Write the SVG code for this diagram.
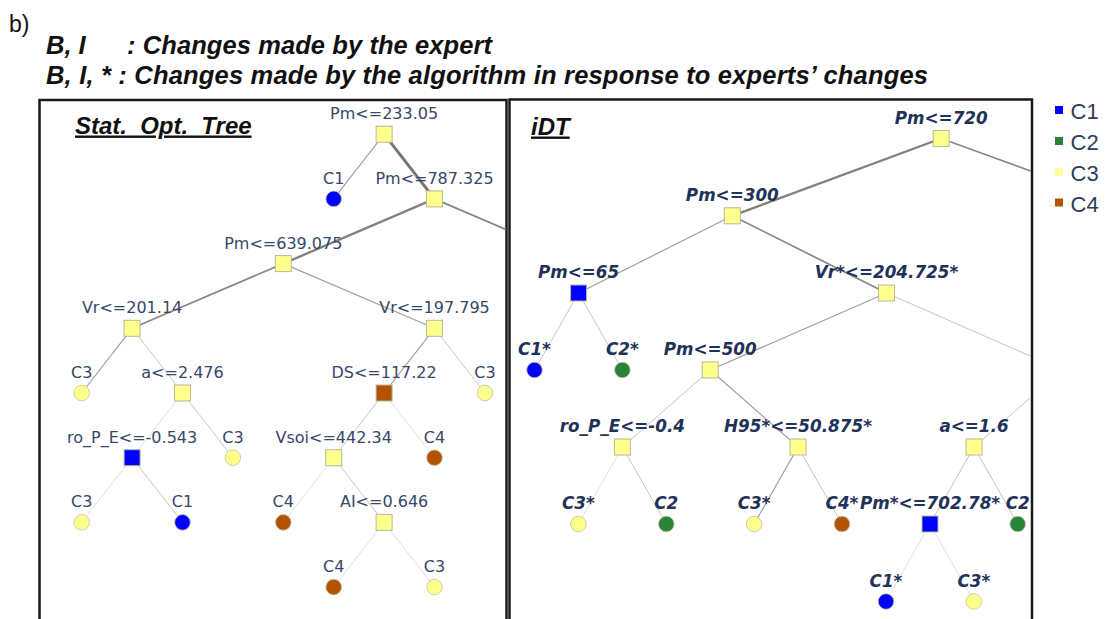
<svg xmlns="http://www.w3.org/2000/svg" width="1106" height="619" viewBox="0 0 1106 619">
<style>
.hdr{font-family:"Liberation Sans",Arial,sans-serif;font-weight:bold;font-style:italic;font-size:25.5px;fill:#111}
.ttl{font-family:"Liberation Sans",Arial,sans-serif;font-weight:bold;font-style:italic;font-size:24px;fill:#111;text-decoration:underline}
.ll{font-family:"DejaVu Sans",Verdana,sans-serif;font-size:16px;fill:#36476a;text-anchor:middle}
.rl{font-family:"DejaVu Sans",Verdana,sans-serif;font-size:16.8px;font-weight:bold;font-style:italic;fill:#1f3359;text-anchor:middle}
.lg{font-family:"Liberation Sans",Arial,sans-serif;font-size:22px;fill:#2f3d5a}
.sq{stroke:#b9b79e;stroke-width:1}
.ci{stroke:#c4c2aa;stroke-width:0.8}
.y{fill:#ffff8c}
.b{fill:#0000ff}
.g{fill:#2a8438}
.o{fill:#b05400}
.panel{fill:none;stroke:#1a1a1a;stroke-width:2.5}
.e{fill:none;stroke-linecap:round}
.w1{stroke:#7b756f;stroke-width:3}
.w2{stroke:#857f79;stroke-width:2.3}
.w3{stroke:#8c8680;stroke-width:1.7}
.w4{stroke:#a39e99;stroke-width:1.2}
.w5{stroke:#c9c5c1;stroke-width:1}
.w6{stroke:#e2e0de;stroke-width:1}
</style>
<defs>
<clipPath id="clipL"><rect x="40" y="100" width="466" height="519"/></clipPath>
<clipPath id="clipR"><rect x="510" y="100" width="521" height="519"/></clipPath>
</defs>
<rect x="0" y="0" width="1106" height="619" fill="#ffffff"/>

<g id="header">
<text x="9" y="31.5" font-family="Liberation Sans, Arial, sans-serif" font-size="23" fill="#111">b)</text>
<text class="hdr" x="46" y="54">B, I</text>
<text class="hdr" x="127" y="54" textLength="365" lengthAdjust="spacing">: Changes made by the expert</text>
<text class="hdr" x="46" y="84" textLength="882" lengthAdjust="spacing">B, I, * : Changes made by the algorithm in response to experts’ changes</text>
</g>

<g id="panels">
<path class="panel" d="M39.5,625 V100 H506.5 V625"/>
<path class="panel" d="M509.5,625 V99.5 H1032 V625"/>
<text class="ttl" x="75" y="133.5" word-spacing="6.5">Stat. Opt. Tree</text>
<text class="ttl" x="531" y="134.5">iDT</text>
</g>

<g id="legend">
<rect x="1055" y="106" width="8" height="8" class="b"/>
<text class="lg" x="1070.5" y="119">C1</text>
<rect x="1055" y="137" width="8" height="8" class="g"/>
<text class="lg" x="1070.5" y="150">C2</text>
<rect x="1055" y="168" width="8" height="8" fill="#ffff99"/>
<text class="lg" x="1070.5" y="181">C3</text>
<rect x="1055" y="198.5" width="8" height="8" class="o"/>
<text class="lg" x="1070.5" y="211.5">C4</text>
</g>

<g id="connectors">
<g clip-path="url(#clipL)">
<line class="e w4" x1="384.1" y1="134.2" x2="333.7" y2="198.9"/>
<line class="e w1" x1="384.1" y1="134.2" x2="434.5" y2="198.9"/>
<line class="e w2" x1="434.5" y1="198.9" x2="283.3" y2="263.6"/>
<line class="e w3" x1="434.5" y1="198.9" x2="585.7" y2="263.6"/>
<line class="e w3" x1="283.3" y1="263.6" x2="132.1" y2="328.3"/>
<line class="e w4" x1="283.3" y1="263.6" x2="434.5" y2="328.3"/>
<line class="e w4" x1="132.1" y1="328.3" x2="81.7" y2="393"/>
<line class="e w5" x1="132.1" y1="328.3" x2="182.5" y2="393"/>
<line class="e w6" x1="182.5" y1="393" x2="132.1" y2="457.7"/>
<line class="e w5" x1="182.5" y1="393" x2="232.9" y2="457.7"/>
<line class="e w6" x1="132.1" y1="457.7" x2="81.7" y2="522.4"/>
<line class="e w5" x1="132.1" y1="457.7" x2="182.5" y2="522.4"/>
<line class="e w4" x1="434.5" y1="328.3" x2="384.1" y2="393"/>
<line class="e w5" x1="434.5" y1="328.3" x2="484.9" y2="393"/>
<line class="e w5" x1="384.1" y1="393" x2="333.7" y2="457.7"/>
<line class="e w6" x1="384.1" y1="393" x2="434.5" y2="457.7"/>
<line class="e w6" x1="333.7" y1="457.7" x2="283.3" y2="522.4"/>
<line class="e w5" x1="333.7" y1="457.7" x2="384.1" y2="522.4"/>
<line class="e w6" x1="384.1" y1="522.4" x2="333.7" y2="587.1"/>
<line class="e w6" x1="384.1" y1="522.4" x2="434.5" y2="587.1"/>
</g>
<g clip-path="url(#clipR)">
<line class="e w2" x1="941.2" y1="138.5" x2="732.3" y2="215.8"/>
<line class="e w3" x1="941.2" y1="138.5" x2="1154" y2="215.8"/>
<line class="e w4" x1="732.3" y1="215.8" x2="578.6" y2="293"/>
<line class="e w3" x1="732.3" y1="215.8" x2="886.5" y2="293"/>
<line class="e w5" x1="578.6" y1="293" x2="534.5" y2="370"/>
<line class="e w5" x1="578.6" y1="293" x2="622.4" y2="370"/>
<line class="e w4" x1="886.5" y1="293" x2="710.2" y2="370"/>
<line class="e w5" x1="886.5" y1="293" x2="1062" y2="370"/>
<line class="e w5" x1="710.2" y1="370" x2="622.4" y2="447"/>
<line class="e w4" x1="710.2" y1="370" x2="798" y2="447"/>
<line class="e w5" x1="1062" y1="370" x2="974" y2="447"/>
<line class="e w6" x1="622.4" y1="447" x2="578.4" y2="524"/>
<line class="e w5" x1="622.4" y1="447" x2="666.3" y2="524"/>
<line class="e w4" x1="798" y1="447" x2="754.1" y2="524"/>
<line class="e w5" x1="798" y1="447" x2="842" y2="524"/>
<line class="e w5" x1="974" y1="447" x2="930" y2="524"/>
<line class="e w5" x1="974" y1="447" x2="1017.7" y2="524"/>
<line class="e w6" x1="930" y1="524" x2="886" y2="601.5"/>
<line class="e w6" x1="930" y1="524" x2="973.8" y2="601.5"/>
</g>
</g>

<g id="L1"><text class="ll" x="384.1" y="119.2">Pm&lt;=233.05</text><rect class="sq y" x="376.1" y="126.2" width="16" height="16"/></g>
<g id="L2"><text class="ll" x="333.7" y="183.9">C1</text><circle class="ci b" cx="333.7" cy="198.9" r="7.8"/></g>
<g id="L3"><text class="ll" x="434.5" y="183.9">Pm&lt;=787.325</text><rect class="sq y" x="426.5" y="190.9" width="16" height="16"/></g>
<g id="L4"><text class="ll" x="283.3" y="248.6">Pm&lt;=639.075</text><rect class="sq y" x="275.3" y="255.6" width="16" height="16"/></g>
<g id="L5"><text class="ll" x="132.1" y="313.3">Vr&lt;=201.14</text><rect class="sq y" x="124.1" y="320.3" width="16" height="16"/></g>
<g id="L6"><text class="ll" x="434.5" y="313.3">Vr&lt;=197.795</text><rect class="sq y" x="426.5" y="320.3" width="16" height="16"/></g>
<g id="L7"><text class="ll" x="81.7" y="378">C3</text><circle class="ci y" cx="81.7" cy="393" r="7.8"/></g>
<g id="L8"><text class="ll" x="182.5" y="378">a&lt;=2.476</text><rect class="sq y" x="174.5" y="385" width="16" height="16"/></g>
<g id="L9"><text class="ll" x="384.1" y="378">DS&lt;=117.22</text><rect class="sq o" x="376.1" y="385" width="16" height="16"/></g>
<g id="L10"><text class="ll" x="484.9" y="378">C3</text><circle class="ci y" cx="484.9" cy="393" r="7.8"/></g>
<g id="L11"><text class="ll" x="132.1" y="442.7">ro_P_E&lt;=-0.543</text><rect class="sq b" x="124.1" y="449.7" width="16" height="16"/></g>
<g id="L12"><text class="ll" x="232.9" y="442.7">C3</text><circle class="ci y" cx="232.9" cy="457.7" r="7.8"/></g>
<g id="L13"><text class="ll" x="333.7" y="442.7">Vsoi&lt;=442.34</text><rect class="sq y" x="325.7" y="449.7" width="16" height="16"/></g>
<g id="L14"><text class="ll" x="434.5" y="442.7">C4</text><circle class="ci o" cx="434.5" cy="457.7" r="7.8"/></g>
<g id="L15"><text class="ll" x="81.7" y="507.4">C3</text><circle class="ci y" cx="81.7" cy="522.4" r="7.8"/></g>
<g id="L16"><text class="ll" x="182.5" y="507.4">C1</text><circle class="ci b" cx="182.5" cy="522.4" r="7.8"/></g>
<g id="L17"><text class="ll" x="283.3" y="507.4">C4</text><circle class="ci o" cx="283.3" cy="522.4" r="7.8"/></g>
<g id="L18"><text class="ll" x="384.1" y="507.4">AI&lt;=0.646</text><rect class="sq y" x="376.1" y="514.4" width="16" height="16"/></g>
<g id="L19"><text class="ll" x="333.7" y="572.1">C4</text><circle class="ci o" cx="333.7" cy="587.1" r="7.8"/></g>
<g id="L20"><text class="ll" x="434.5" y="572.1">C3</text><circle class="ci y" cx="434.5" cy="587.1" r="7.8"/></g>

<g id="R1"><text class="rl" x="941.2" y="123.5">Pm&lt;=720</text><rect class="sq y" x="933.2" y="130.5" width="16" height="16"/></g>
<g id="R2"><text class="rl" x="732.3" y="200.8">Pm&lt;=300</text><rect class="sq y" x="724.3" y="207.8" width="16" height="16"/></g>
<g id="R3"><text class="rl" x="578.6" y="278">Pm&lt;=65</text><rect class="sq b" x="570.6" y="285" width="16" height="16"/></g>
<g id="R4"><text class="rl" x="886.5" y="278">Vr*&lt;=204.725*</text><rect class="sq y" x="878.5" y="285" width="16" height="16"/></g>
<g id="R5"><text class="rl" x="534.5" y="355">C1*</text><circle class="ci b" cx="534.5" cy="370" r="7.8"/></g>
<g id="R6"><text class="rl" x="622.4" y="355">C2*</text><circle class="ci g" cx="622.4" cy="370" r="7.8"/></g>
<g id="R7"><text class="rl" x="710.2" y="355">Pm&lt;=500</text><rect class="sq y" x="702.2" y="362" width="16" height="16"/></g>
<g id="R8"><text class="rl" x="622.4" y="432">ro_P_E&lt;=-0.4</text><rect class="sq y" x="614.4" y="439" width="16" height="16"/></g>
<g id="R9"><text class="rl" x="798" y="432">H95*&lt;=50.875*</text><rect class="sq y" x="790" y="439" width="16" height="16"/></g>
<g id="R10"><text class="rl" x="974" y="432">a&lt;=1.6</text><rect class="sq y" x="966" y="439" width="16" height="16"/></g>
<g id="R11"><text class="rl" x="578.4" y="509">C3*</text><circle class="ci y" cx="578.4" cy="524" r="7.8"/></g>
<g id="R12"><text class="rl" x="666.3" y="509">C2</text><circle class="ci g" cx="666.3" cy="524" r="7.8"/></g>
<g id="R13"><text class="rl" x="754.1" y="509">C3*</text><circle class="ci y" cx="754.1" cy="524" r="7.8"/></g>
<g id="R14"><text class="rl" x="842" y="509">C4*</text><circle class="ci o" cx="842" cy="524" r="7.8"/></g>
<g id="R15"><text class="rl" x="930" y="509">Pm*&lt;=702.78*</text><rect class="sq b" x="922" y="516" width="16" height="16"/></g>
<g id="R16"><text class="rl" x="1017.7" y="509">C2</text><circle class="ci g" cx="1017.7" cy="524" r="7.8"/></g>
<g id="R17"><text class="rl" x="886" y="586.5">C1*</text><circle class="ci b" cx="886" cy="601.5" r="7.8"/></g>
<g id="R18"><text class="rl" x="973.8" y="586.5">C3*</text><circle class="ci y" cx="973.8" cy="601.5" r="7.8"/></g>
</svg>
